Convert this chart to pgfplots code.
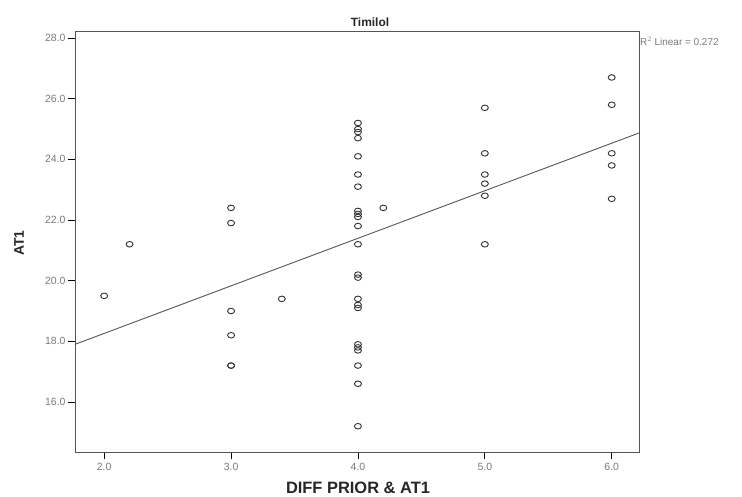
\documentclass[border=0pt]{standalone}
\usepackage{fontspec}
\setmainfont{Liberation Sans}
\usepackage{pgfplots}
\pgfplotsset{compat=1.18}

\definecolor{frame}{HTML}{555555}
\definecolor{ticktext}{HTML}{7A7A7A}
\definecolor{markc}{HTML}{333333}

\begin{document}
\begin{tikzpicture}
% page = 742 x 497 bp, axis box origin at its lower-left corner
\useasboundingbox[fill=white] (-75bp,-45bp) rectangle (667bp,452bp);
\begin{axis}[
  at={(0,0)}, anchor=south west,
  scale only axis,
  width=564bp, height=420bp,
  xmin=1.77, xmax=6.215,
  ymin=14.35, ymax=28.2,
  xtick={2,3,4,5,6},
  ytick={16,18,20,22,24,26,28},
  xtick pos=bottom, ytick pos=left,
  tick align=outside,
  major tick length=7bp,
  axis line style={color=frame, line width=1pt},
  tick style={color=black, line width=0.9pt},
  /pgf/number format/assume math mode=true,
  /pgf/number format/.cd, fixed, fixed zerofill, precision=1,
  /pgfplots/.cd,
  tick label style={font=\fontsize{10.5}{12}\selectfont, text=ticktext},
  xticklabel style={yshift=-1bp},
  yticklabel style={xshift=1bp},
  clip=false,
]
\addplot[only marks, mark=o, mark size=2.8pt,
  mark options={color=markc, line width=0.9pt, xscale=1.25}]
table{
x y
2.0 19.5
2.2 21.2
3.0 22.4
3.0 21.9
3.0 19.0
3.0 18.2
3.0 17.2
3.0 17.2
3.4 19.4
4.0 25.2
4.0 25.0
4.0 24.9
4.0 24.7
4.0 24.1
4.0 23.5
4.0 23.1
4.0 22.3
4.0 22.2
4.0 22.1
4.0 21.8
4.0 21.2
4.0 20.2
4.0 20.1
4.0 19.4
4.0 19.2
4.0 19.1
4.0 17.9
4.0 17.8
4.0 17.7
4.0 17.2
4.0 16.6
4.0 15.2
4.2 22.4
5.0 25.7
5.0 24.2
5.0 23.5
5.0 23.2
5.0 22.8
5.0 21.2
6.0 26.7
6.0 25.8
6.0 24.2
6.0 23.8
6.0 22.7
};
% fit line (R^2 linear = 0.272)
\addplot[color=frame, line width=0.9pt] coordinates {(1.77,17.90) (6.215,24.87)};
\end{axis}
\node[font=\bfseries\fontsize{12}{14}\selectfont, text=black!85] at (295bp,429.5bp) {Timilol};
\node[anchor=west, font=\fontsize{10}{12}\selectfont, text=ticktext, inner sep=0pt]
  at (565bp,410.5bp) {R$^{2}$ Linear = 0.272};
\node[anchor=base, font=\bfseries\fontsize{16.5}{18}\selectfont, text=black!85, inner sep=0pt]
  at (283bp,-41.5bp) {DIFF PRIOR \& AT1};
\node[rotate=90, font=\bfseries\fontsize{14}{16}\selectfont, text=black!85, inner sep=0pt]
  at (-56bp,209bp) {AT1};
\end{tikzpicture}
\end{document}
